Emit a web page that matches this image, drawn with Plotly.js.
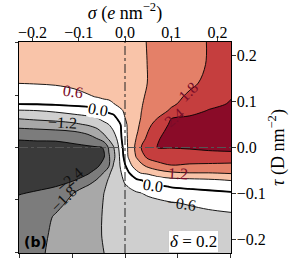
<!DOCTYPE html>
<html><head><meta charset="utf-8">
<script src="https://cdn.plot.ly/plotly-3.0.1.min.js"></script>
<style>html,body{margin:0;padding:0;background:#fff;} #chart{width:289px;height:267px;}</style>
</head><body><div id="chart"></div>
<script>
// grid positions (sigma in e nm^-2, tau in D nm^-2)
const sigma = [-0.23, -0.19, -0.15, -0.11, -0.08, -0.06, -0.045, -0.035, -0.025, -0.016, -0.008, 0, 0.008, 0.016, 0.025, 0.035, 0.05, 0.07, 0.1, 0.14, 0.18, 0.23];
const tau = [0.23, 0.18, 0.14, 0.11, 0.095, 0.08, 0.065, 0.05, 0.035, 0.02, 0, -0.02, -0.04, -0.055, -0.07, -0.085, -0.1, -0.12, -0.15, -0.19, -0.23];
// field values, one array per sigma column (top to bottom along tau)
const zS_m230 = [0.95, 0.85, 0.61, 0.22, 0.03, -0.65, -1.12, -1.56, -2.0, -2.35, -2.62, -2.72, -2.75, -2.7, -2.62, -2.52, -2.42, -2.3, -2.18, -2.1, -2.05];
const zS_m190 = [0.97, 0.86, 0.63, 0.25, 0.05, -0.6, -1.03, -1.5, -1.95, -2.32, -2.6, -2.7, -2.72, -2.67, -2.57, -2.47, -2.35, -2.2, -2.05, -1.95, -1.9];
const zS_m150 = [0.98, 0.87, 0.66, 0.3, 0.09, -0.5, -0.97, -1.42, -1.9, -2.32, -2.58, -2.66, -2.66, -2.6, -2.5, -2.4, -2.2, -1.97, -1.75, -1.7, -1.67];
const zS_m110 = [1.0, 0.9, 0.75, 0.39, 0.14, -0.32, -0.86, -1.3, -1.8, -2.23, -2.52, -2.6, -2.58, -2.52, -2.44, -2.14, -1.77, -1.65, -1.57, -1.52, -1.5];
const zS_m080 = [1.0, 0.92, 0.8, 0.55, 0.19, -0.23, -0.71, -1.14, -1.59, -2.07, -2.48, -2.55, -2.52, -2.46, -2.17, -1.72, -1.6, -1.5, -1.43, -1.38, -1.36];
const zS_m060 = [1.02, 0.95, 0.82, 0.62, 0.31, -0.05, -0.57, -0.97, -1.36, -1.77, -2.45, -2.5, -2.47, -2.2, -1.76, -1.55, -1.42, -1.33, -1.28, -1.27, -1.27];
const zS_m045 = [1.03, 0.97, 0.85, 0.7, 0.4, 0.07, -0.36, -0.75, -1.05, -1.4, -2.38, -2.42, -2.2, -1.75, -1.4, -1.25, -1.19, -1.17, -1.16, -1.16, -1.2];
const zS_m035 = [1.04, 0.98, 0.87, 0.7, 0.48, 0.12, -0.24, -0.6, -0.86, -1.11, -1.72, -1.88, -1.85, -1.3, -1.15, -1.1, -1.08, -1.07, -1.07, -1.08, -1.1];
const zS_m025 = [1.05, 1.0, 0.9, 0.78, 0.58, 0.2, -0.15, -0.36, -0.62, -0.9, -1.25, -1.38, -1.15, -1.02, -0.97, -0.95, -0.95, -0.95, -0.97, -0.99, -1.02];
const zS_m016 = [1.06, 1.02, 0.93, 0.82, 0.7, 0.4, 0.08, -0.2, -0.4, -0.5, -0.76, -0.86, -0.88, -0.88, -0.87, -0.87, -0.88, -0.9, -0.93, -0.96, -0.99];
const zS_m008 = [1.07, 1.03, 0.95, 0.85, 0.75, 0.55, 0.33, 0.05, 0.02, -0.03, -0.2, -0.35, -0.45, -0.6, -0.68, -0.76, -0.8, -0.85, -0.9, -0.94, -0.97];
const zS_p000 = [1.08, 1.05, 0.98, 0.9, 0.84, 0.67, 0.6, 0.47, 0.44, 0.39, 0.33, 0.25, -0.07, -0.32, -0.52, -0.65, -0.72, -0.8, -0.87, -0.92, -0.96];
const zS_p008 = [1.1, 1.08, 1.03, 1.0, 0.91, 0.79, 0.74, 0.72, 0.72, 0.72, 0.71, 0.68, 0.3, -0.04, -0.38, -0.59, -0.68, -0.77, -0.86, -0.92, -0.96];
const zS_p016 = [1.12, 1.1, 1.06, 1.05, 0.99, 0.91, 0.88, 0.88, 0.91, 0.96, 1.01, 0.94, 0.63, 0.21, -0.25, -0.55, -0.66, -0.74, -0.85, -0.91, -0.96];
const zS_p025 = [1.14, 1.12, 1.1, 1.11, 1.08, 1.04, 1.04, 1.08, 1.13, 1.23, 1.37, 1.25, 0.84, 0.48, -0.05, -0.48, -0.64, -0.71, -0.84, -0.91, -0.96];
const zS_p035 = [1.15, 1.14, 1.13, 1.15, 1.17, 1.19, 1.22, 1.29, 1.39, 1.55, 1.8, 1.57, 1.04, 0.64, 0.03, -0.41, -0.62, -0.73, -0.84, -0.91, -0.96];
const zS_p050 = [1.22, 1.21, 1.21, 1.26, 1.3, 1.36, 1.45, 1.65, 1.8, 1.95, 2.08, 1.95, 1.33, 0.7, 0.2, -0.23, -0.52, -0.78, -0.88, -0.93, -0.95];
const zS_p070 = [1.31, 1.31, 1.32, 1.42, 1.47, 1.58, 1.77, 2.04, 2.24, 2.37, 2.41, 2.05, 1.6, 0.9, 0.35, -0.12, -0.42, -0.72, -0.85, -0.92, -0.95];
const zS_p100 = [1.46, 1.45, 1.48, 1.63, 1.72, 1.87, 2.38, 2.5, 2.56, 2.52, 2.42, 2.1, 1.77, 1.12, 0.45, 0.03, -0.26, -0.63, -0.82, -0.9, -0.95];
const zS_p140 = [1.63, 1.63, 1.69, 1.9, 1.97, 2.16, 2.48, 2.58, 2.6, 2.56, 2.45, 2.15, 1.7, 1.2, 0.5, 0.1, -0.2, -0.55, -0.8, -0.9, -0.95];
const zS_p180 = [1.82, 1.83, 1.93, 2.15, 2.22, 2.43, 2.55, 2.65, 2.68, 2.64, 2.5, 2.2, 1.66, 1.2, 0.55, 0.15, -0.14, -0.46, -0.75, -0.88, -0.95];
const zS_p230 = [2.05, 2.1, 2.25, 2.38, 2.45, 2.55, 2.68, 2.75, 2.77, 2.72, 2.55, 2.2, 1.62, 1.27, 0.65, 0.25, -0.08, -0.37, -0.7, -0.85, -0.95];

const levelStart = -2.4, levelEnd = 2.4, levelStep = 0.6;
const sigmaTicks = [-0.2, -0.1, 0, 0.1, 0.2];
const tauTicks = [-0.2, -0.1, 0, 0.1, 0.2];
const auxTicks = [-2, -1, 0, 1, 2];
const bandColors = ['#3a3a3a', '#7c7c7c', '#a8a8a8', '#cfcfcf', '#ffffff', '#ffffff', '#f9c4a9', '#e48068', '#c53e3e', '#8a0b28'];
// contour label texts
const labelTexts = ['0.6', '0.0', '\u22121.2', '\u22122.4', '\u22121.8', '1.8', '2.4', '1.2', '0.0', '\u22120.6'];
const panelTag = '(b)';
const deltaText = '<i>\u03b4</i> = 0.2';

// build table for the library
const cols = [zS_m230, zS_m190, zS_m150, zS_m110, zS_m080, zS_m060, zS_m045, zS_m035, zS_m025, zS_m016, zS_m008,
              zS_p000, zS_p008, zS_p016, zS_p025, zS_p035, zS_p050, zS_p070, zS_p100, zS_p140, zS_p180, zS_p230];
const rowsDesc = tau.map((t, i) => cols.map(c => c[i]));
const tauAsc = tau.slice().reverse();
const zAsc = rowsDesc.slice().reverse();

const cscale = bandColors.map((c, i) => [i / (bandColors.length - 1), c]);

const serif = 'Liberation Serif, Times New Roman, serif';
const red = '#7a0c28';
const labelStyle = [
  {s: -0.112, t: 0.121, a: 8, c: red},
  {s: -0.059, t: 0.083, a: 10, c: '#000', bg: '#ffffff'},
  {s: -0.134, t: 0.055, a: 3, c: '#111'},
  {s: -0.119, t: -0.069, a: -40, c: '#111'},
  {s: -0.132, t: -0.111, a: -45, c: '#111'},
  {s: 0.137, t: 0.122, a: -45, c: red},
  {s: 0.106, t: 0.066, a: -40, c: red},
  {s: 0.115, t: -0.056, a: 3, c: red},
  {s: 0.061, t: -0.082, a: 8, c: '#000', bg: '#ffffff'},
  {s: 0.121, t: -0.121, a: 8, c: '#111'}
];

const traces = [
  {
    type: 'contour', x: sigma, y: tauAsc, z: zAsc,
    autocontour: false,
    contours: {start: levelStart, end: levelEnd, size: levelStep, coloring: 'fill', showlines: true},
    colorscale: cscale, showscale: false,
    line: {color: '#000', width: 0.9, smoothing: 1},
    hoverinfo: 'skip'
  },
  {
    type: 'contour', x: sigma, y: tauAsc, z: zAsc,
    autocontour: false,
    contours: {start: 0, end: 0.3, size: levelStep, coloring: 'none'},
    showscale: false,
    line: {color: '#000', width: 1.8, smoothing: 1},
    hoverinfo: 'skip'
  },
  {type: 'scatter', x: [], y: [], xaxis: 'x2', yaxis: 'y2', showlegend: false, hoverinfo: 'skip'}
];

const annotations = labelTexts.map((txt, i) => {
  const a = {
    x: labelStyle[i].s, y: labelStyle[i].t, xref: 'x', yref: 'y',
    text: txt, showarrow: false, textangle: labelStyle[i].a,
    font: {family: serif, size: 16, color: labelStyle[i].c}
  };
  if (labelStyle[i].bg) { a.bgcolor = labelStyle[i].bg; a.borderpad = 0; }
  return a;
});
annotations.push({
  x: -0.1935, y: -0.206, xref: 'x', yref: 'y', text: '<b>' + panelTag + '</b>', showarrow: false,
  font: {family: 'DejaVu Sans, sans-serif', size: 14, color: '#000'}
});
annotations.push({
  x: 0.148, y: -0.205, xref: 'x', yref: 'y', text: deltaText, showarrow: false,
  bgcolor: '#ffffff', bordercolor: '#cccccc', borderwidth: 1, borderpad: 1,
  font: {family: serif, size: 17, color: '#000'}
});

const axCommon = {
  showgrid: false, zeroline: false, ticks: 'outside', ticklen: 3.5, tickwidth: 0.8, tickcolor: '#000'
};

const layout = {
  width: 289, height: 267,
  margin: {l: 19, r: 58, t: 42, b: 14},
  paper_bgcolor: '#fff', plot_bgcolor: '#fff',
  showlegend: false,
  xaxis: Object.assign({}, axCommon, {
    side: 'top', range: [-0.229, 0.229], tickvals: sigmaTicks, tickformat: '.1f',
    showline: true, mirror: true, linecolor: '#000', linewidth: 1,
    ticklabelstandoff: -7,
    tickfont: {family: serif, size: 16, color: '#000'},
    title: {text: '<i>\u03c3</i> (<i>e</i> nm<sup>\u22122</sup>)', font: {family: serif, size: 18, color: '#000'}, standoff: 0}
  }),
  yaxis: Object.assign({}, axCommon, {
    side: 'right', range: [-0.229, 0.229], tickvals: tauTicks, tickformat: '.1f',
    showline: true, mirror: true, linecolor: '#000', linewidth: 1,
    ticklabelstandoff: -2,
    tickfont: {family: serif, size: 16, color: '#000'},
    title: {text: '<i>\u03c4</i> (D nm<sup>\u22122</sup>)', font: {family: serif, size: 18, color: '#000'}, standoff: 13}
  }),
  xaxis2: Object.assign({}, axCommon, {
    overlaying: 'x', side: 'bottom', anchor: 'y', range: [-2.015, 2.015], tickvals: auxTicks,
    showticklabels: false, showline: false
  }),
  yaxis2: Object.assign({}, axCommon, {
    overlaying: 'y', side: 'left', anchor: 'x', range: [-2.01, 2.01], tickvals: auxTicks,
    showticklabels: false, showline: false
  }),
  shapes: [
    {type: 'line', xref: 'x', yref: 'paper', x0: 0, x1: 0, y0: 0, y1: 1, line: {color: '#222', width: 1, dash: 'dashdot'}},
    {type: 'line', xref: 'paper', yref: 'y', x0: 0, x1: 1, y0: 0, y1: 0, line: {color: '#555', width: 1, dash: 'dashdot'}}
  ],
  annotations: annotations
};

Plotly.newPlot('chart', traces, layout, {staticPlot: true, displayModeBar: false});
</script>
</body></html>
